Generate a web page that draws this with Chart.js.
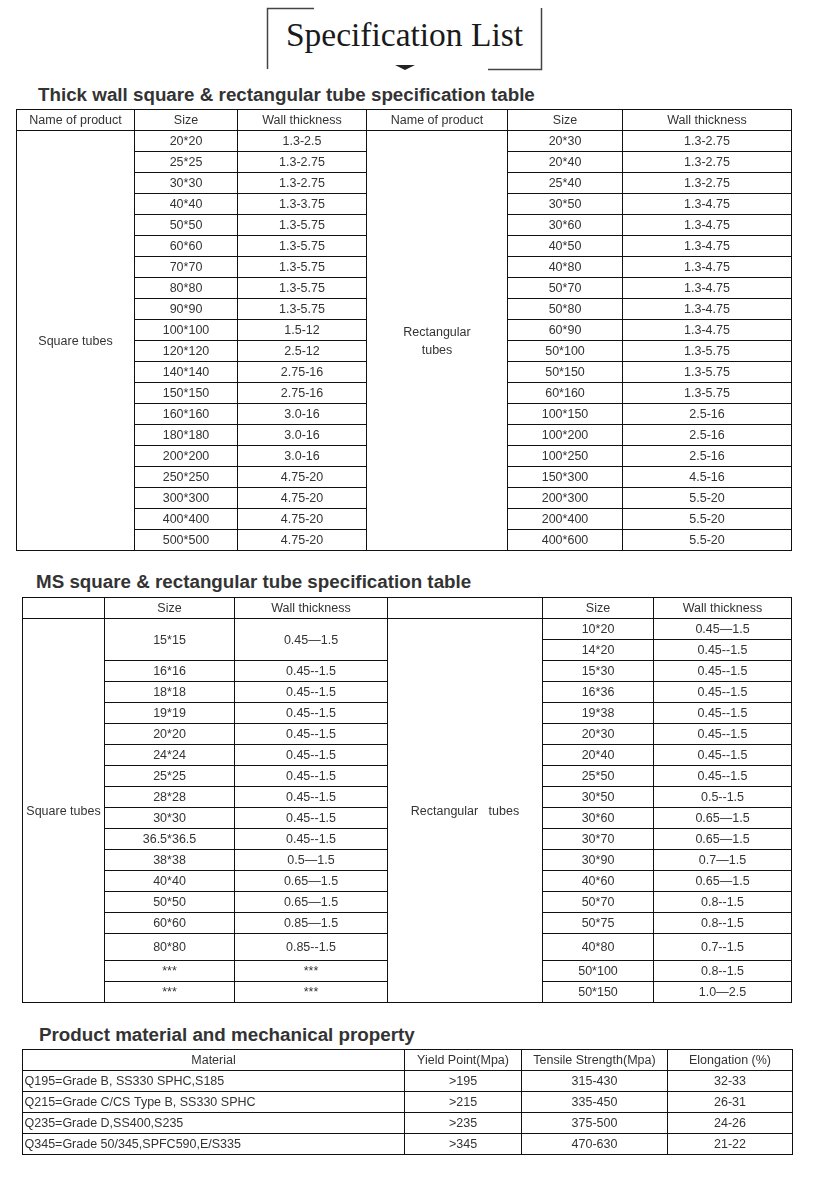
<!DOCTYPE html>
<html>
<head>
<meta charset="utf-8">
<script src="https://cdn.jsdelivr.net/npm/chart.js@4.4.1/dist/chart.umd.min.js"></script>
<style>
  body { margin: 0; background: #fff; width: 815px; height: 1179px; position: relative; overflow: hidden; }
  .heading { position: absolute; font: bold 18.8px "Liberation Sans", Arial, sans-serif; color: #333; line-height: 19px; white-space: nowrap; }
  #title { position: absolute; left: 267px; top: 18px; width: 275px; text-align: center; font: 33.5px "Liberation Serif", "Times New Roman", serif; line-height: 34px; color: #1a1a1a; white-space: nowrap; }
  canvas { position: absolute; }
  svg { position: absolute; left: 0; top: 0; }
</style>
</head>
<body>
<svg width="815" height="80">
  <polyline points="314,8.5 267.5,8.5 267.5,69" fill="none" stroke="#444" stroke-width="1.5"/>
  <polyline points="541.5,8 541.5,69.5 488,69.5" fill="none" stroke="#444" stroke-width="1.5"/>
  <polygon points="395,65 415,65 405,70" fill="#222"/>
</svg>
<div id="title">Specification List</div>

<div class="heading" style="left:38px;top:85px">Thick wall square &amp; rectangular tube specification table</div>
<canvas id="thickTable" style="left:16px;top:109px"></canvas>

<div class="heading" style="left:36px;top:572px">MS square &amp; rectangular tube specification table</div>
<canvas id="msTable" style="left:22px;top:597px"></canvas>

<div class="heading" style="left:39px;top:1025px">Product material and mechanical property</div>
<canvas id="materialTable" style="left:22px;top:1049px"></canvas>

<script>
// ---- Thick wall table ----
const thickHeaders = ["Name of product", "Size", "Wall thickness", "Name of product", "Size", "Wall thickness"];
const thickSquareSizes = ["20*20", "25*25", "30*30", "40*40", "50*50", "60*60", "70*70", "80*80", "90*90", "100*100",
  "120*120", "140*140", "150*150", "160*160", "180*180", "200*200", "250*250", "300*300", "400*400", "500*500"];
const thickSquareWall = ["1.3-2.5", "1.3-2.75", "1.3-2.75", "1.3-3.75", "1.3-5.75", "1.3-5.75", "1.3-5.75", "1.3-5.75", "1.3-5.75", "1.5-12",
  "2.5-12", "2.75-16", "2.75-16", "3.0-16", "3.0-16", "3.0-16", "4.75-20", "4.75-20", "4.75-20", "4.75-20"];
const thickRectSizes = ["20*30", "20*40", "25*40", "30*50", "30*60", "40*50", "40*80", "50*70", "50*80", "60*90",
  "50*100", "50*150", "60*160", "100*150", "100*200", "100*250", "150*300", "200*300", "200*400", "400*600"];
const thickRectWall = ["1.3-2.75", "1.3-2.75", "1.3-2.75", "1.3-4.75", "1.3-4.75", "1.3-4.75", "1.3-4.75", "1.3-4.75", "1.3-4.75", "1.3-4.75",
  "1.3-5.75", "1.3-5.75", "1.3-5.75", "2.5-16", "2.5-16", "2.5-16", "4.5-16", "5.5-20", "5.5-20", "5.5-20"];

// ---- MS table ----
const msHeaders = ["", "Size", "Wall thickness", "", "Size", "Wall thickness"];
const msSquareSizes = ["15*15", "16*16", "18*18", "19*19", "20*20", "24*24", "25*25", "28*28", "30*30", "36.5*36.5",
  "38*38", "40*40", "50*50", "60*60", "80*80", "***", "***"];
const msSquareWall = ["0.45\u20141.5", "0.45--1.5", "0.45--1.5", "0.45--1.5", "0.45--1.5", "0.45--1.5", "0.45--1.5", "0.45--1.5", "0.45--1.5", "0.45--1.5",
  "0.5\u20141.5", "0.65\u20141.5", "0.65\u20141.5", "0.85\u20141.5", "0.85--1.5", "***", "***"];
const msRectSizes = ["10*20", "14*20", "15*30", "16*36", "19*38", "20*30", "20*40", "25*50", "30*50", "30*60",
  "30*70", "30*90", "40*60", "50*70", "50*75", "40*80", "50*100", "50*150"];
const msRectWall = ["0.45\u20141.5", "0.45--1.5", "0.45--1.5", "0.45--1.5", "0.45--1.5", "0.45--1.5", "0.45--1.5", "0.45--1.5", "0.5--1.5", "0.65\u20141.5",
  "0.65\u20141.5", "0.7\u20141.5", "0.65\u20141.5", "0.8--1.5", "0.8--1.5", "0.7--1.5", "0.8--1.5", "1.0\u20142.5"];

// ---- Material table ----
const materialHeaders = ["Material", "Yield Point(Mpa)", "Tensile Strength(Mpa)", "Elongation (%)"];
const materials = ["Q195=Grade B, SS330 SPHC,S185", "Q215=Grade C/CS Type B, SS330 SPHC", "Q235=Grade D,SS400,S235", "Q345=Grade 50/345,SPFC590,E/S335"];
const yieldPoints = [">195", ">215", ">235", ">345"];
const tensileStrengths = ["315-430", "335-450", "375-500", "470-630"];
const elongations = ["32-33", "26-31", "24-26", "21-22"];

// layout: column edges (px) and row weights per table
const thickLayout = { cols: [0, 118, 221, 350, 491, 606, 775], rowWeights: Array(21).fill(1), rowPx: 21 };
const msRowWeights = Array(19).fill(1);
msRowWeights[16] = 27 / 21; // the 80*80 / 40*80 row is taller
const msLayout = { cols: [0, 82, 212, 365, 520, 631, 769], rowWeights: msRowWeights, rowPx: 21 };
const materialLayout = { cols: [0, 382, 499, 645, 770], rowWeights: Array(5).fill(1), rowPx: 21 };

function cell(c, r0, text, opts = {}) {
  return { c0: c, c1: opts.c1 ?? c + 1, r0: r0, r1: opts.r1 ?? r0 + 1, text: text, align: opts.align || "center" };
}

// thick wall cells
const thickCells = thickHeaders.map((h, i) => cell(i, 0, h));
thickCells.push(cell(0, 1, "Square tubes", { r1: 21 }));
thickCells.push(cell(3, 1, "Rectangular\ntubes", { r1: 21 }));
thickSquareSizes.forEach((s, i) => {
  thickCells.push(cell(1, i + 1, s), cell(2, i + 1, thickSquareWall[i]));
});
thickRectSizes.forEach((s, i) => {
  thickCells.push(cell(4, i + 1, s), cell(5, i + 1, thickRectWall[i]));
});

// MS cells (first square row spans two rows)
const msCells = msHeaders.map((h, i) => cell(i, 0, h));
msCells.push(cell(0, 1, "Square tubes", { r1: 19 }));
msCells.push(cell(3, 1, "Rectangular   tubes", { r1: 19 }));
msSquareSizes.forEach((s, i) => {
  const r = i === 0 ? 1 : i + 2;
  const r1 = i === 0 ? 3 : r + 1;
  msCells.push(cell(1, r, s, { r1: r1 }), cell(2, r, msSquareWall[i], { r1: r1 }));
});
msRectSizes.forEach((s, i) => {
  msCells.push(cell(4, i + 1, s), cell(5, i + 1, msRectWall[i]));
});

// material cells
const materialCells = materialHeaders.map((h, i) => cell(i, 0, h));
materials.forEach((m, i) => {
  materialCells.push(cell(0, i + 1, m, { align: "left" }), cell(1, i + 1, yieldPoints[i]),
    cell(2, i + 1, tensileStrengths[i]), cell(3, i + 1, elongations[i]));
});

function drawTable(canvasId, layout, cells) {
  const canvas = document.getElementById(canvasId);
  const width = layout.cols[layout.cols.length - 1];
  const rowEdges = [0];
  layout.rowWeights.forEach((w) => rowEdges.push(rowEdges[rowEdges.length - 1] + w));
  const totalRows = rowEdges[rowEdges.length - 1];
  const height = Math.round(totalRows * layout.rowPx);
  canvas.width = width + 1;
  canvas.height = height + 1;
  canvas.style.width = width + 1 + "px";
  canvas.style.height = height + 1 + "px";

  const tablePlugin = {
    id: "tableCells",
    afterDraw(chart) {
      const { ctx, scales: { x, y } } = chart;
      const px = (v) => Math.round(x.getPixelForValue(v)) + 0.5;
      const py = (v) => Math.round(y.getPixelForValue(v)) + 0.5;
      ctx.save();
      ctx.strokeStyle = "#111";
      ctx.lineWidth = 1;
      ctx.font = '12.5px "Liberation Sans", Arial, sans-serif';
      ctx.fillStyle = "#333";
      ctx.textBaseline = "alphabetic";
      cells.forEach((c) => {
        const x0 = px(layout.cols[c.c0]);
        const x1 = px(layout.cols[c.c1]);
        const y0 = py(rowEdges[c.r0]);
        const y1 = py(rowEdges[c.r1]);
        ctx.strokeRect(x0, y0, x1 - x0, y1 - y0);
        if (!c.text) return;
        const lines = c.text.split("\n");
        const midY = (y0 + y1) / 2;
        lines.forEach((line, i) => {
          const ly = midY + (i - (lines.length - 1) / 2) * 18 + 4;
          if (c.align === "left") {
            ctx.textAlign = "left";
            ctx.fillText(line, x0 + 2, ly);
          } else {
            ctx.textAlign = "center";
            ctx.fillText(line, (x0 + x1) / 2, ly);
          }
        });
      });
      ctx.restore();
    }
  };

  return new Chart(canvas, {
    type: "scatter",
    data: { datasets: [] },
    options: {
      responsive: false,
      maintainAspectRatio: false,
      animation: false,
      devicePixelRatio: 1,
      layout: { padding: { left: 0, top: 0, right: 1, bottom: 1 } },
      scales: {
        x: { type: "linear", min: 0, max: width, display: false },
        y: { type: "linear", min: 0, max: totalRows, reverse: true, display: false }
      },
      plugins: { legend: { display: false }, tooltip: { enabled: false } }
    },
    plugins: [tablePlugin]
  });
}

drawTable("thickTable", thickLayout, thickCells);
drawTable("msTable", msLayout, msCells);
drawTable("materialTable", materialLayout, materialCells);
</script>
</body>
</html>
